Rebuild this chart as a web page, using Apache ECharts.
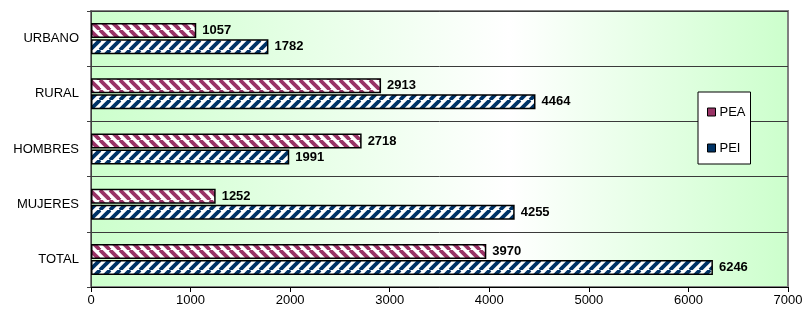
<!DOCTYPE html>
<html>
<head>
<meta charset="utf-8">
<script src="https://cdn.jsdelivr.net/npm/echarts@6/dist/echarts.min.js"></script>
<style>
html,body{margin:0;padding:0;background:#fff;}
#c{width:806px;height:315px;}
</style>
</head>
<body>
<div id="c"></div>
<script>
var categories = ['URBANO', 'RURAL', 'HOMBRES', 'MUJERES', 'TOTAL'];
var seriesNames = ['PEA', 'PEI'];
var peaValues = [1057, 2913, 2718, 1252, 3970];
var peiValues = [1782, 4464, 1991, 4255, 6246];
var xTicks = [0, 1000, 2000, 3000, 4000, 5000, 6000, 7000];

function makePattern(color, dir) {
  var s = 10;
  var cv = document.createElement('canvas');
  cv.width = s; cv.height = s;
  var ctx = cv.getContext('2d');
  ctx.fillStyle = '#ffffff';
  ctx.fillRect(0, 0, s, s);
  ctx.strokeStyle = color;
  ctx.lineWidth = 3.8;
  for (var o = -s; o <= s; o += s) {
    ctx.beginPath();
    if (dir === 'back') {
      ctx.moveTo(o, 0); ctx.lineTo(o + s, s);
    } else {
      ctx.moveTo(o, s); ctx.lineTo(o + s, 0);
    }
    ctx.stroke();
  }
  return { image: cv, repeat: 'repeat' };
}

var font = 'Liberation Sans, Arial, sans-serif';
var chart = echarts.init(document.getElementById('c'), null, { renderer: 'canvas' });
var labelOpt = {
  show: true, position: 'right', distance: 6,
  fontFamily: font, fontSize: 13, fontWeight: 'bold', color: '#000'
};
chart.setOption({
  animation: false,
  backgroundColor: '#ffffff',
  grid: {
    left: 91, right: 18, top: 11, bottom: 28,
    show: true,
    borderColor: '#808080', borderWidth: 2,
    backgroundColor: new echarts.graphic.LinearGradient(0, 0, 1, 0, [
      { offset: 0, color: '#ccffcc' },
      { offset: 0.6, color: '#ffffff' },
      { offset: 1, color: '#ccffcc' }
    ])
  },
  legend: {
    orient: 'vertical',
    left: 698, top: 92,
    width: 57,
    padding: [13, 5, 9, 9],
    itemGap: 22,
    itemWidth: 8, itemHeight: 8,
    icon: 'rect',
    backgroundColor: '#ffffff',
    borderColor: '#000', borderWidth: 1,
    textStyle: { fontFamily: font, fontSize: 13, color: '#000', lineHeight: 14, padding: [0, 0, 0, -1] },
    data: [
      { name: 'PEA', itemStyle: { color: '#993366', borderColor: '#000', borderWidth: 1 } },
      { name: 'PEI', itemStyle: { color: '#003366', borderColor: '#000', borderWidth: 1 } }
    ]
  },
  xAxis: {
    type: 'value', min: xTicks[0], max: xTicks[xTicks.length - 1], interval: 1000,
    axisLine: { show: true, lineStyle: { color: '#000', width: 1 } },
    axisTick: { show: true, length: 5, lineStyle: { color: '#000' } },
    axisLabel: { fontFamily: font, fontSize: 13, color: '#000', margin: 7,
      formatter: function (v) { return String(v); } },
    splitLine: { show: false }
  },
  yAxis: {
    type: 'category', data: categories, inverse: true,
    axisLine: { show: true, lineStyle: { color: '#404040', width: 1 } },
    axisTick: { show: true, length: 4, lineStyle: { color: '#404040' } },
    axisLabel: { fontFamily: font, fontSize: 13, color: '#000', margin: 12 },
    splitLine: { show: true, lineStyle: { color: '#3a3a3a', width: 1 } }
  },
  series: [
    {
      name: seriesNames[0], type: 'bar', data: peaValues,
      barWidth: 15, barGap: '7%',
      itemStyle: { color: makePattern('#993366', 'back'), borderColor: '#000', borderWidth: 1.5 },
      label: labelOpt
    },
    {
      name: seriesNames[1], type: 'bar', data: peiValues,
      barWidth: 15, barGap: '7%',
      itemStyle: { color: makePattern('#003366', 'fwd'), borderColor: '#000', borderWidth: 1.5 },
      label: labelOpt
    }
  ]
});
</script>
</body>
</html>
